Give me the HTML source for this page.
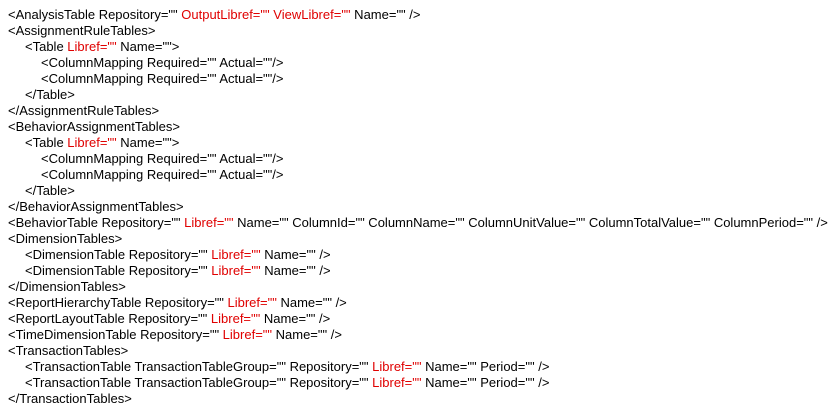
<!DOCTYPE html>
<html><head><style>
body{margin:0;background:#fff;width:839px;height:408px;overflow:hidden}
#c{position:absolute;left:8px;top:7px;font-family:"Liberation Sans",Arial,sans-serif;font-size:13px;line-height:16px;color:#000;white-space:pre}
.r{color:#e00000}
.i1{padding-left:17px}.i2{padding-left:33px}
</style></head><body><div id="c"><div>&lt;AnalysisTable Repository="" <span class="r">OutputLibref=""</span> <span class="r">ViewLibref=""</span> Name="" /&gt;</div><div>&lt;AssignmentRuleTables&gt;</div><div class="i1">&lt;Table <span class="r">Libref=""</span> Name=""&gt;</div><div class="i2">&lt;ColumnMapping Required="" Actual=""/&gt;</div><div class="i2">&lt;ColumnMapping Required="" Actual=""/&gt;</div><div class="i1">&lt;/Table&gt;</div><div>&lt;/AssignmentRuleTables&gt;</div><div>&lt;BehaviorAssignmentTables&gt;</div><div class="i1">&lt;Table <span class="r">Libref=""</span> Name=""&gt;</div><div class="i2">&lt;ColumnMapping Required="" Actual=""/&gt;</div><div class="i2">&lt;ColumnMapping Required="" Actual=""/&gt;</div><div class="i1">&lt;/Table&gt;</div><div>&lt;/BehaviorAssignmentTables&gt;</div><div>&lt;BehaviorTable Repository="" <span class="r">Libref=""</span> Name="" ColumnId="" ColumnName="" ColumnUnitValue="" ColumnTotalValue="" ColumnPeriod="" /&gt;</div><div>&lt;DimensionTables&gt;</div><div class="i1">&lt;DimensionTable Repository="" <span class="r">Libref=""</span> Name="" /&gt;</div><div class="i1">&lt;DimensionTable Repository="" <span class="r">Libref=""</span> Name="" /&gt;</div><div>&lt;/DimensionTables&gt;</div><div>&lt;ReportHierarchyTable Repository="" <span class="r">Libref=""</span> Name="" /&gt;</div><div>&lt;ReportLayoutTable Repository="" <span class="r">Libref=""</span> Name="" /&gt;</div><div>&lt;TimeDimensionTable Repository="" <span class="r">Libref=""</span> Name="" /&gt;</div><div>&lt;TransactionTables&gt;</div><div class="i1">&lt;TransactionTable TransactionTableGroup="" Repository="" <span class="r">Libref=""</span> Name="" Period="" /&gt;</div><div class="i1">&lt;TransactionTable TransactionTableGroup="" Repository="" <span class="r">Libref=""</span> Name="" Period="" /&gt;</div><div>&lt;/TransactionTables&gt;</div></div></body></html>
